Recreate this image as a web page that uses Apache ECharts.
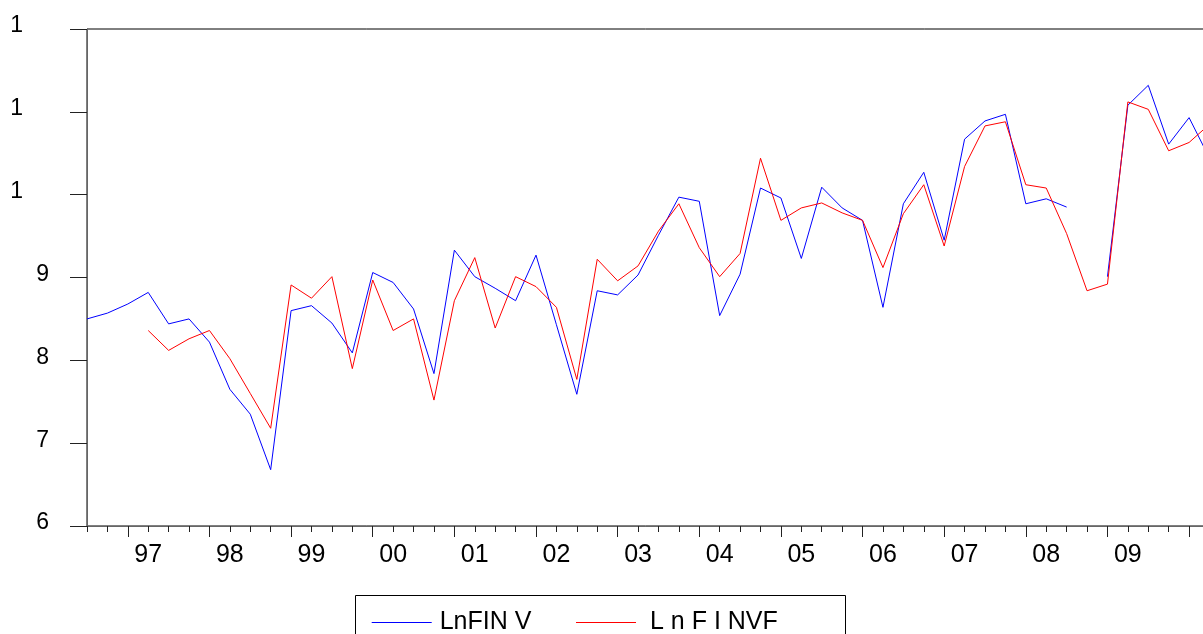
<!DOCTYPE html>
<html>
<head>
<meta charset="utf-8">
<script src="https://cdn.jsdelivr.net/npm/echarts@6/dist/echarts.min.js"></script>
<style>
html,body{margin:0;padding:0;background:#fff;}
#chart{width:1203px;height:634px;}
</style>
</head>
<body>
<div id="chart"></div>
<script>
// Quarterly categories, 1996Q3 .. 2010Q2
var categories = [
  '1996Q3','1996Q4',
  '1997Q1','1997Q2','1997Q3','1997Q4',
  '1998Q1','1998Q2','1998Q3','1998Q4',
  '1999Q1','1999Q2','1999Q3','1999Q4',
  '2000Q1','2000Q2','2000Q3','2000Q4',
  '2001Q1','2001Q2','2001Q3','2001Q4',
  '2002Q1','2002Q2','2002Q3','2002Q4',
  '2003Q1','2003Q2','2003Q3','2003Q4',
  '2004Q1','2004Q2','2004Q3','2004Q4',
  '2005Q1','2005Q2','2005Q3','2005Q4',
  '2006Q1','2006Q2','2006Q3','2006Q4',
  '2007Q1','2007Q2','2007Q3','2007Q4',
  '2008Q1','2008Q2','2008Q3','2008Q4',
  '2009Q1','2009Q2','2009Q3','2009Q4',
  '2010Q1','2010Q2'
];
// Year tick labels shown on the x axis
var yearLabels = ['97','98','99','00','01','02','03','04','05','06','07','08','09'];
// y tick labels (EViews shows truncated "1" for 10, 11, 12)
var yTickLabels = {6:'6',7:'7',8:'8',9:'9',10:'1',11:'1',12:'1'};

var lnFINV = [
  8.50, 8.57,
  8.68, 8.82, 8.44, 8.50,
  8.22, 7.65, 7.35, 6.68,
  8.60, 8.66, 8.45, 8.09,
  9.06, 8.94, 8.62, 7.84,
  9.33, 9.01, 8.87, 8.72,
  9.27, 8.43, 7.59, 8.84,
  8.79, 9.03, 9.51, 9.97,
  9.92, 8.54, 9.04, 10.08,
  9.96, 9.23, 10.09, 9.84,
  9.69, 8.64, 9.89, 10.27,
  9.45, 10.67, 10.89, 10.97,
  9.89, 9.95, 9.85, null,
  9.01, 11.08, 11.32, 10.61,
  10.93, 10.44
];
var lnFINVF = [
  null, null,
  null, 8.36, 8.12, 8.26,
  8.36, 8.02, 7.60, 7.18,
  8.91, 8.75, 9.01, 7.90,
  8.97, 8.36, 8.50, 7.52,
  8.72, 9.24, 8.39, 9.01,
  8.89, 8.64, 7.77, 9.22,
  8.96, 9.14, 9.56, 9.89,
  9.36, 9.01, 9.29, 10.44,
  9.69, 9.84, 9.90, 9.78,
  9.69, 9.12, 9.77, 10.12,
  9.38, 10.34, 10.83, 10.88,
  10.12, 10.08, 9.53, 8.84,
  8.92, 11.12, 11.03, 10.53,
  10.63, 10.85
];
var seriesNames = ['LnFINV', 'LnFINVF'];
var legendTexts = {'LnFINV': 'LnFIN V', 'LnFINVF': 'L n F I NVF'};

var chart = echarts.init(document.getElementById('chart'), null, {renderer: 'canvas'});
var FONT = 'Liberation Sans, Arial, sans-serif';

var option = {
  animation: false,
  backgroundColor: '#fff',
  grid: {
    left: 87, width: 1122.5, top: 29, height: 497,
    outerBoundsMode: 'none', containLabel: false,
    show: true, borderColor: '#000', borderWidth: 1, backgroundColor: 'transparent'
  },
  xAxis: [
    {
      type: 'category', data: categories, boundaryGap: false, position: 'bottom',
      axisLine: {show: true, lineStyle: {color: '#666', width: 1}},
      axisTick: {show: true, interval: 0, length: 6, lineStyle: {color: '#222'}},
      axisLabel: {
        show: true, interval: function (i) { return i % 4 === 3 && i <= 51; },
        formatter: function (v, i) { return yearLabels[(i - 3) / 4]; },
        fontFamily: FONT, fontSize: 25, color: '#000', margin: 17
      },
      splitLine: {show: false}
    },
    {
      type: 'category', data: categories, boundaryGap: false, position: 'bottom',
      axisLine: {show: false},
      axisTick: {show: true, interval: function (i) { return i % 4 === 2; }, length: 11, lineStyle: {color: '#222'}},
      axisLabel: {show: false},
      splitLine: {show: false}
    }
  ],
  yAxis: {
    type: 'value', min: 6, max: 12, interval: 1,
    axisLine: {show: true, lineStyle: {color: '#666', width: 1}},
    axisTick: {show: true, length: 17, lineStyle: {color: '#222'}},
    splitLine: {show: false},
    axisLabel: {
      margin: 38,
      formatter: function (v) {
        return v >= 10 ? '{o|' + yTickLabels[v] + '}' : '{n|' + yTickLabels[v] + '}';
      },
      rich: {
        n: {fontFamily: FONT, fontSize: 23, color: '#000', padding: [0, 0, 6, 0]},
        o: {fontFamily: FONT, fontSize: 23, color: '#000', padding: [0, 26, 6, 0]}
      }
    }
  },
  legend: [
    {
      data: [seriesNames[0]], left: 366.7, top: 605, padding: 5,
      itemWidth: 60, itemHeight: 14, icon: 'path://M0,0 L60,0 L60,1 L0,1 Z',
      formatter: function (n) { return legendTexts[n]; },
      textStyle: {fontFamily: FONT, fontSize: 25, color: '#000', padding: [0, 0, 0, 3]}
    },
    {
      data: [seriesNames[1]], left: 571, top: 605, padding: 5,
      itemWidth: 60, itemHeight: 14, icon: 'path://M0,0 L60,0 L60,1 L0,1 Z',
      formatter: function (n) { return legendTexts[n]; },
      textStyle: {fontFamily: FONT, fontSize: 25, color: '#000', padding: [0, 0, 0, 9]}
    }
  ],
  graphic: [
    {
      type: 'rect', silent: true, z: 100,
      shape: {x: 355.5, y: 595.5, width: 490, height: 80},
      style: {fill: 'none', stroke: '#000', lineWidth: 1}
    }
  ],
  series: [
    {
      name: seriesNames[0], type: 'line', data: lnFINV, xAxisIndex: 0,
      symbol: 'none', connectNulls: false, clip: true,
      lineStyle: {color: '#0000ff', width: 1}, itemStyle: {color: '#0000ff'}
    },
    {
      name: seriesNames[1], type: 'line', data: lnFINVF, xAxisIndex: 0,
      symbol: 'none', connectNulls: false, clip: true,
      lineStyle: {color: '#ff0000', width: 1}, itemStyle: {color: '#ff0000'}
    }
  ]
};
chart.setOption(option);
</script>
</body>
</html>
